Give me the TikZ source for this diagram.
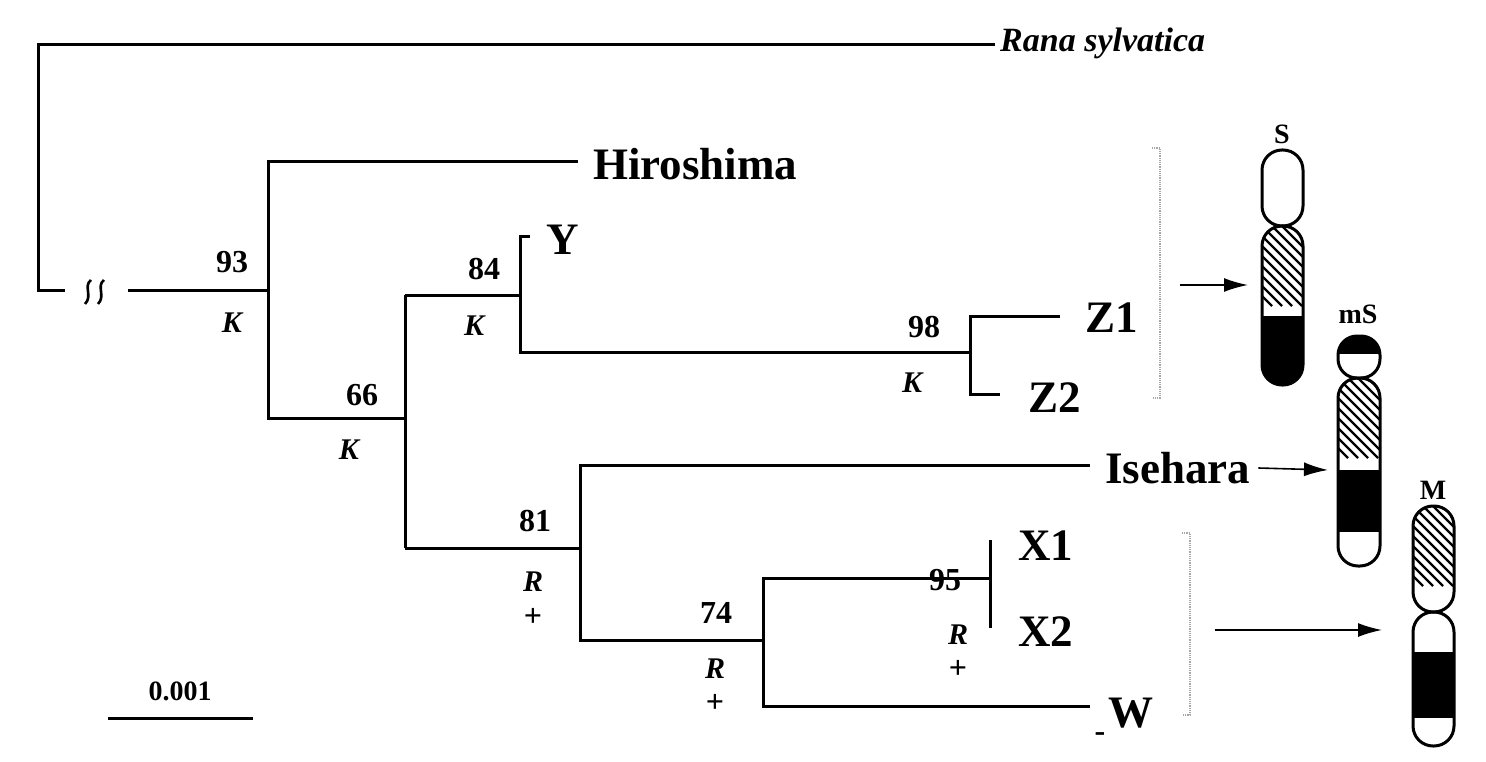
\documentclass[tikz,border=0pt]{standalone}
\usepackage{fontspec}
\setmainfont{Liberation Serif}
\usetikzlibrary{arrows.meta}
\tikzset{
 br/.style={line width=3pt},
 tax/.style={font=\fontsize{45}{48}\selectfont\bfseries, anchor=west, inner sep=0},
 num/.style={font=\fontsize{32}{34}\selectfont\bfseries, inner sep=0},
 ital/.style={font=\fontsize{30}{34}\selectfont\bfseries\itshape, inner sep=0},
 arr/.style={line width=1.6pt,-{Latex[length=24pt,width=14pt]}},
 brk/.style={gray!70, line width=1.2pt, densely dotted},
 chr/.style={line width=3pt}
}
\newcommand{\hatchbox}[4]{% x1 y1 x2 y2
 \begin{scope}\clip (#1,#2) rectangle (#3,#4);
 \foreach \k in {-80,-70,...,260}{\draw[line width=2.2pt] (#1+\k-60,#2-60) -- ++(140,140);}
 \end{scope}}
\begin{document}
\begin{tikzpicture}[x=1pt,y=-1pt]
\useasboundingbox (0,0) rectangle (1486,762);
% coordinates
\coordinate (r0) at (38,45); \coordinate (r1) at (38,290);
\coordinate (rs) at (995,45);
\coordinate (a0) at (65,290); \coordinate (a1) at (128,290);
\coordinate (n93) at (268,290);
\coordinate (h0) at (268,162); \coordinate (h1) at (578,162);
\coordinate (n66a) at (268,418); \coordinate (n66) at (405,418);
\coordinate (n84a) at (405,295); \coordinate (n84) at (520,295);
\coordinate (y0) at (520,237); \coordinate (y1) at (530,237);
\coordinate (n98a) at (520,352); \coordinate (n98) at (970,352);
\coordinate (z1a) at (970,316); \coordinate (z1) at (1060,316);
\coordinate (z2a) at (970,394); \coordinate (z2) at (1000,394);
\coordinate (n81a) at (405,548); \coordinate (n81) at (580,548);
\coordinate (ia) at (580,465); \coordinate (ib) at (1090,465);
\coordinate (n74a) at (580,640); \coordinate (n74) at (763,640);
\coordinate (xa) at (763,578); \coordinate (xb) at (990,578);
\coordinate (x1) at (990,540); \coordinate (x2) at (990,628);
\coordinate (wa) at (763,706); \coordinate (wb) at (1090,706);
% tree
\draw[br] (rs) -- (r0) -- (r1) -- (a0);
\draw[br] (a1) -- (n93);
\foreach \sx in {88,101}{\draw[line width=2.6pt] (\sx+3,280) .. controls (\sx-5,286) and (\sx+5,296) .. (\sx-3,304);}
\draw[br] (h1) -- (h0) -- (n66a) -- (n66);
\draw[br] (n84a) -- (n81a);
\draw[br] (n84a) -- (n84);
\draw[br] (y1) -- (y0) -- (n98a) -- (n98);
\draw[br] (z1) -- (z1a) -- (z2a) -- (z2);
\draw[br] (n81a) -- (n81);
\draw[br] (ib) -- (ia) -- (n74a) -- (n74);
\draw[br] (xb) -- (xa) -- (wa) -- (wb);
\draw[br] (x1) -- (x2);
% taxa
\node[tax, font=\fontsize{34}{38}\selectfont\bfseries\itshape] (tRs) at (1000,43) {Rana sylvatica};
\node[tax] (tH) at (593,164) {Hiroshima};
\node[tax] (tY) at (546,240) {Y};
\node[tax] (tZ1) at (1085,318) {Z1};
\node[tax] (tZ2) at (1028,398) {Z2};
\node[tax] (tI) at (1105,468) {Isehara};
\node[tax] (tX1) at (1018,546) {X1};
\node[tax] (tX2) at (1018,632) {X2};
\node[tax] (tW) at (1108,713) {W};
% support labels
\node[num] (l93) at (232,262) {93}; \node[ital] (k93) at (232,323) {K};
\node[num] (l66) at (362,395) {66}; \node[ital] (k66) at (349,450) {K};
\node[num] (l84) at (484,269) {84}; \node[ital] (k84) at (474,326) {K};
\node[num] (l98) at (924,327) {98}; \node[ital] (k98) at (912,383) {K};
\node[num] (l81) at (535,521) {81}; \node[ital] (r81) at (533,582) {R}; \node[num] (p81) at (533,617) {+};
\node[num] (l74) at (716,613) {74}; \node[ital] (r74) at (715,669) {R}; \node[num] (p74) at (715,703) {+};
\node[num] (l95) at (945,580) {95}; \node[ital] (r95) at (958,635) {R}; \node[num] (p95) at (958,669) {+};
\node[num] (mW) at (1100,737) {-};
% scale
\coordinate (s0) at (108,718); \coordinate (s1) at (253,718);
\draw[br] (s0) -- (s1);
\node[num,font=\fontsize{28}{30}\selectfont\bfseries] (sl) at (180,691) {0.001};
% brackets
\draw[brk] (1152,148) -- (1160,148) -- (1160,398) -- (1152,398);
\draw[brk] (1182,533) -- (1190,533) -- (1190,715) -- (1182,715);
% arrows to chromosomes
\coordinate (aS0) at (1180,285); \coordinate (aS1) at (1248,285);
\coordinate (aI1) at (1328,470); \coordinate (aM0) at (1215,630); \coordinate (aM1) at (1382,630);
\draw[arr] (aS0) -- (aS1);
\draw[arr] (tI.east) ++(8,0) -- (aI1);
\draw[arr] (aM0) -- (aM1);
% chromosome S
\node[num,font=\fontsize{28}{30}\selectfont\bfseries] (cS) at (1282,134) {S};
\draw[chr,rounded corners=20pt] (1262,150) rectangle (1303,226);
\begin{scope}
\clip[rounded corners=20pt] (1262,226) rectangle (1303,385);
\hatchbox{1262}{226}{1303}{316}
\fill (1262,316) rectangle (1303,385);
\end{scope}
\draw[chr,rounded corners=20pt] (1262,226) rectangle (1303,385);
% chromosome mS
\node[num,font=\fontsize{28}{30}\selectfont\bfseries] (cmS) at (1358,314) {mS};
\begin{scope}\clip[rounded corners=19pt] (1338,336) rectangle (1380,378);\fill (1338,330) rectangle (1380,354);\end{scope}
\draw[chr,rounded corners=19pt] (1338,336) rectangle (1380,378);
\begin{scope}
\clip[rounded corners=20pt] (1338,378) rectangle (1380,566);
\hatchbox{1338}{378}{1380}{470}
\fill (1338,470) rectangle (1380,530);
\end{scope}
\draw[chr,rounded corners=20pt] (1338,378) rectangle (1380,566);
\draw[chr] (1338,530) -- (1380,530);
% chromosome M
\node[num,font=\fontsize{28}{30}\selectfont\bfseries] (cM) at (1433,490) {M};
\begin{scope}
\clip[rounded corners=20pt] (1413,506) rectangle (1454,612);
\hatchbox{1413}{506}{1454}{612}
\end{scope}
\draw[chr,rounded corners=20pt] (1413,506) rectangle (1454,612);
\begin{scope}
\clip[rounded corners=20pt] (1413,612) rectangle (1454,746);
\fill (1413,652) rectangle (1454,718);
\end{scope}
\draw[chr,rounded corners=20pt] (1413,612) rectangle (1454,746);
\end{tikzpicture}
\end{document}
